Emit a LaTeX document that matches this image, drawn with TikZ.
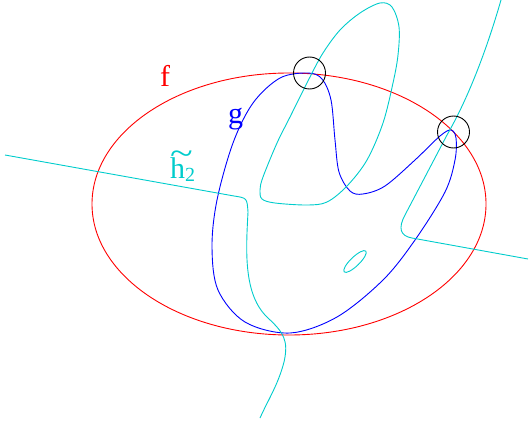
\documentclass[tikz,border=0pt]{standalone}
\usepackage{fontspec}
\setmainfont{Liberation Serif}
\definecolor{hcyan}{rgb}{0,0.8,0.8}
\begin{document}
\begin{tikzpicture}[x=1pt,y=-1pt,
  curve/.style={line width=0.9pt},
  lab/.style={anchor=base west,inner sep=0pt,font=\fontsize{30}{34}\selectfont}]
\useasboundingbox (0,0) rectangle (529,425);
% f
\draw[curve,red] (289,204) ellipse [x radius=197, y radius=131];
% g
\draw[curve,blue] plot[smooth cycle,tension=0.55] coordinates {
 (308,73) (322,79) (331,100) (335,140) (339,172) (350,191) (363,194)
 (385,186) (415,160) (440,136) (451,130) (456,138) (455,160) (445,192)
 (415,240) (383,280) (337,317) (290,333) (245,322) (218,290) (212,247)
 (217,200) (233,143) (253,103) (280,78)};
% h2 loop
\draw[curve,hcyan] plot[smooth cycle,tension=0.55] coordinates {
 (380,3) (392,7) (399,27) (398,55) (393,83) (383,123) (367,160) (347,186)
 (327,202) (307,205) (275,203) (262,199) (260,190) (263,177) (277,143)
 (290,117) (310,77) (323,53) (340,30) (360,13)};
% h2 left branch
\coordinate (a1) at (5,155);
\coordinate (a2) at (260,418);
\draw[curve,hcyan] (a1) -- (234,196) .. controls (247,198) .. (248,212)
  .. controls (246,250) and (243,295) .. (268,318)
  .. controls (283,332) and (289,340) .. (284,362)
  .. controls (278,385) and (268,400) .. (a2);
% h2 right branch
\coordinate (c1) at (501,0);
\coordinate (c2) at (528,259);
\draw[curve,hcyan] (c1) .. controls (488,45) and (470,95) .. (447,135)
  -- (405,215) .. controls (398,228) and (400,236) .. (412,238) -- (c2);
% small oval
\draw[curve,hcyan,rotate around={44:(355,261.5)}] (355,261.5) ellipse [x radius=15, y radius=4.5];
% circles
\node[draw,circle,line width=0.9pt,minimum size=32pt,inner sep=0pt] (p1) at (309.5,73) {};
\node[draw,circle,line width=0.9pt,minimum size=32pt,inner sep=0pt] (p2) at (453.5,132) {};
% labels
\node[lab,red] (lf) at (160,87) {f};
\node[lab,blue] (lg) at (228,123) {g};
\node[lab,hcyan] (lh) at (170,178) {\rlap{\raisebox{0.46em}{\scalebox{1.4}[1.1]{\~{}}}}h\raisebox{-0.25ex}{\fontsize{20}{22}\selectfont 2}};
\end{tikzpicture}
\end{document}
